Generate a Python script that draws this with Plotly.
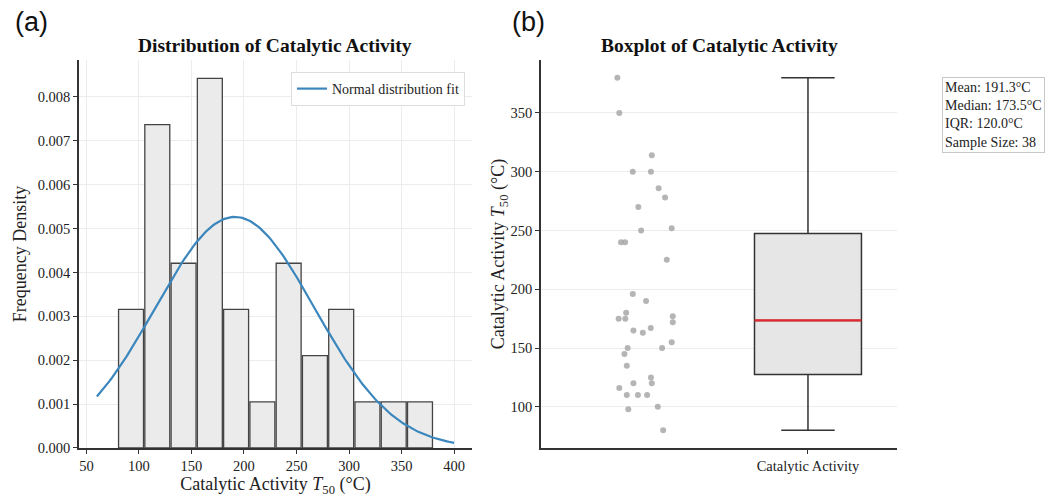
import numpy as np
import plotly.graph_objects as go

# ---- data ----
t50_values = [380, 350, 314, 300, 300, 286, 278, 270, 250, 252, 240, 240, 225,
              196, 190, 180, 175, 175, 177, 172, 165, 163, 167, 155, 150, 150,
              145, 135, 125, 120, 120, 116, 110, 110, 110, 100, 98, 80]
strip_x = [0.109, 0.118, 0.270, 0.181, 0.266, 0.302, 0.332, 0.207, 0.220, 0.363, 0.126, 0.145, 0.340,
           0.181, 0.243, 0.150, 0.115, 0.146, 0.368, 0.368, 0.184, 0.228, 0.265, 0.363, 0.157, 0.318,
           0.142, 0.153, 0.266, 0.270, 0.184, 0.118, 0.153, 0.205, 0.248, 0.298, 0.160, 0.323]
bin_start, bin_end, bin_size = 80, 380, 25
hist_xticks = [50, 100, 150, 200, 250, 300, 350, 400]
hist_yticks = [0.000, 0.001, 0.002, 0.003, 0.004, 0.005, 0.006, 0.007, 0.008]
box_yticks = [100, 150, 200, 250, 300, 350]
category = "Catalytic Activity"

vals = np.array(t50_values, dtype=float)
edges = np.arange(bin_start, bin_end + bin_size, bin_size)
counts, _ = np.histogram(vals, bins=edges)
density = counts / (len(vals) * bin_size)
centers = (edges[:-1] + edges[1:]) / 2

mu, sigma = vals.mean(), vals.std()
xfit = np.linspace(60, 400, 200)
yfit = np.exp(-0.5 * ((xfit - mu) / sigma) ** 2) / (sigma * np.sqrt(2 * np.pi))

q1, med, q3 = np.percentile(vals, [25, 50, 75])
iqr = q3 - q1
lo_f = vals[vals >= q1 - 1.5 * iqr].min()
hi_f = vals[vals <= q3 + 1.5 * iqr].max()

SERIF = "Liberation Serif, Times New Roman, serif"
AX = "#333333"
GRID = "#ececec"

fig = go.Figure()

fig.add_trace(go.Bar(x=centers, y=density, width=bin_size * 0.95,
                     marker=dict(color="#ebebeb", line=dict(color="#444444", width=1.3)),
                     showlegend=False, xaxis="x", yaxis="y"))
fig.add_trace(go.Scatter(x=xfit, y=yfit, mode="lines", name="Normal distribution fit",
                         line=dict(color="#3a86bd", width=2.2), xaxis="x", yaxis="y"))

fig.add_trace(go.Scatter(x=strip_x, y=vals, mode="markers", showlegend=False,
                         marker=dict(color="#a8a8a8", size=6, opacity=0.85),
                         xaxis="x2", yaxis="y2"))
fig.add_trace(go.Box(x=[1], q1=[q1], median=[med], q3=[q3], lowerfence=[lo_f], upperfence=[hi_f],
                     width=0.5, boxpoints=False, whiskerwidth=0.5, fillcolor="#e6e6e6",
                     line=dict(color="#333333", width=1.5), showlegend=False,
                     xaxis="x2", yaxis="y2"))
fig.add_trace(go.Scatter(x=[0.75, 1.25], y=[med, med], mode="lines", showlegend=False,
                         line=dict(color="#e0282e", width=2.2), xaxis="x2", yaxis="y2"))

tickfont = dict(family=SERIF, size=14.5, color="#222")
titlefont = dict(family=SERIF, size=18, color="#222")
ytitle = "Catalytic Activity <i>T</i><sub>50</sub> (°C)"

common = dict(zeroline=False, showline=True, linecolor=AX, linewidth=1.5, automargin=False,
              ticks="outside", ticklen=4, tickcolor=AX, tickfont=tickfont)

fig.update_layout(
    width=1055, height=497,
    margin=dict(l=0, r=0, t=0, b=0),
    paper_bgcolor="white", plot_bgcolor="white",
    font=dict(family=SERIF, color="#222"),
    xaxis=dict(domain=[0.0749, 0.4474], range=[43, 417], tickvals=hist_xticks,
               showgrid=True, gridcolor=GRID,
               title=dict(text=ytitle, font=titlefont, standoff=2), **common),
    yaxis=dict(domain=[0.0986, 0.8793], range=[0, 0.008842], tickvals=hist_yticks,
               tickformat=".3f", showgrid=True, gridcolor=GRID,
               title=dict(text="Frequency Density", font=titlefont, standoff=6), **common),
    xaxis2=dict(domain=[0.5128, 0.8502], range=[-0.248, 1.416], tickvals=[1],
                ticktext=[category], showgrid=False, anchor="y2", **common),
    yaxis2=dict(domain=[0.0986, 0.8793], range=[65, 395], tickvals=box_yticks,
                showgrid=True, gridcolor=GRID, anchor="x2",
                title=dict(text=ytitle, font=titlefont, standoff=0), **common),
    legend=dict(x=465 / 1055, y=1 - 72 / 497, xanchor="right", yanchor="top",
                bgcolor="white", bordercolor="#dddddd", borderwidth=1,
                font=dict(family=SERIF, size=14, color="#222")),
    showlegend=True,
)

ann = [
    dict(text="(a)", x=31 / 1055, y=1 - 22 / 497, font=dict(family="Liberation Sans, Arial", size=27, color="#111")),
    dict(text="(b)", x=528 / 1055, y=1 - 22 / 497, font=dict(family="Liberation Sans, Arial", size=27, color="#111")),
    dict(text="<b>Distribution of Catalytic Activity</b>", x=275 / 1055, y=1 - 45 / 497,
         font=dict(family=SERIF, size=19.5, color="#111")),
    dict(text="<b>Boxplot of Catalytic Activity</b>", x=719 / 1055, y=1 - 45 / 497,
         font=dict(family=SERIF, size=19.5, color="#111")),
]
for a in ann:
    fig.add_annotation(xref="paper", yref="paper", showarrow=False, xanchor="center", yanchor="middle", **a)

stats = (f"Mean: {vals.mean():.1f}°C<br>Median: {med:.1f}°C<br>"
         f"IQR: {iqr:.1f}°C<br>Sample Size: {len(vals)}")
fig.add_annotation(xref="paper", yref="paper", x=942 / 1055, y=1 - 77 / 497,
                   xanchor="left", yanchor="top", showarrow=False, align="left",
                   text=stats, font=dict(family=SERIF, size=14, color="#222"),
                   bgcolor="white", bordercolor="#c8c8c8", borderwidth=1, borderpad=2)

fig.write_html("out.html", config={"displayModeBar": False},
               post_script="document.body.style.margin='0';document.body.style.overflow='hidden';")
